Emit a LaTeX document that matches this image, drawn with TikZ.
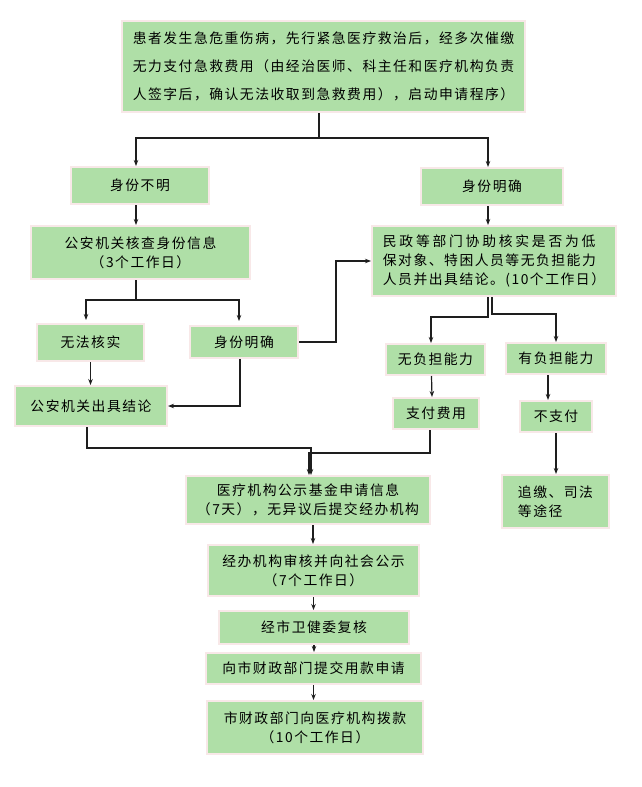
\documentclass[tikz,border=0pt]{standalone}
\usepackage{fontspec}
\newfontfamily\cjk{Noto Sans CJK SC}[LetterSpace=11]
\usetikzlibrary{arrows.meta}
\definecolor{boxgreen}{RGB}{175,223,167}
\definecolor{boxrim}{RGB}{248,232,232}
\definecolor{linec}{RGB}{30,30,30}
\begin{document}
\begin{tikzpicture}[x=1pt,y=-1pt,
  box/.style={draw=boxrim, line width=2pt, fill=boxgreen, inner sep=0pt, align=center,
    font=\cjk\fontsize{13.8}{19}\selectfont},
  line/.style={draw=linec, line width=1.2pt},
  arr/.style={line, -{Stealth[length=6pt,width=4.5pt]}}]
\useasboundingbox[fill=white] (0,0) rectangle (642,787);

\node[box, minimum width=403pt, minimum height=91pt, font=\cjk\fontsize{13.8}{28}\selectfont] (top) at (323.5,66.5)
 {患者发生急危重伤病，先行紧急医疗救治后，经多次催缴\\无力支付急救费用（由经治医师、科主任和医疗机构负责\\人签字后，确认无法收取到急救费用），启动申请程序）};
\node[box, minimum width=138pt, minimum height=37pt] (sbm) at (140,185.5) {身份不明};
\node[box, minimum width=219pt, minimum height=53pt] (gaj) at (140.5,252.5) {公安机关核查身份信息\\（3个工作日）};
\node[box, minimum width=142pt, minimum height=37pt] (sfr) at (492,186.5) {身份明确};
\node[box, minimum width=244pt, minimum height=70pt, align=left] (mz) at (494,261)
 {{\addfontfeature{LetterSpace=20}民政等部门协助核实是否为低}\\保对象、特困人员等无负担能力\\人员并出具结论。(10个工作日）};
\node[box, minimum width=107pt, minimum height=37pt] (wfh) at (90.5,342.5) {无法核实};
\node[box, minimum width=108pt, minimum height=32pt] (sml) at (244,342) {身份明确};
\node[box, minimum width=152pt, minimum height=40pt] (gjc) at (91,406) {公安机关出具结论};
\node[box, minimum width=99pt, minimum height=31pt] (wfd) at (435.5,359.5) {无负担能力};
\node[box, minimum width=100pt, minimum height=31pt] (yfd) at (556,358.5) {有负担能力};
\node[box, minimum width=86pt, minimum height=31pt] (zf) at (436,413.5) {支付费用};
\node[box, minimum width=72pt, minimum height=31pt] (bzf) at (556,416.5) {不支付};
\node[box, minimum width=107pt, minimum height=53pt, align=left] (zj) at (555.5,501.5) {追缴、司法\\等途径};
\node[box, minimum width=244pt, minimum height=48pt] (yl) at (308,500) {医疗机构公示基金申请信息\\（7天），无异议后提交经办机构};
\node[box, minimum width=211pt, minimum height=51pt] (jb) at (313.5,570.5) {经办机构审核并向社会公示\\（7个工作日）};
\node[box, minimum width=190pt, minimum height=33pt] (wjw) at (314,627.5) {经市卫健委复核};
\node[box, minimum width=215pt, minimum height=31pt] (cz) at (313.5,668.5) {向市财政部门提交用款申请};
\node[box, minimum width=216pt, minimum height=53pt] (bk) at (315,727.5) {市财政部门向医疗机构拨款\\（10个工作日）};

% connectors
\draw[line] ([xshift=-4.5pt]top.south) -- ++(0,25) coordinate (j1);
\draw[arr] (j1) -| ([xshift=-4pt]sbm.north);
\draw[arr] (j1) -| ([xshift=-4pt]sfr.north);
\draw[arr] ([xshift=-4pt]sbm.south) -- ([xshift=-4.5pt]gaj.north);
\draw[arr] ([xshift=-4pt]sfr.south) -- ([xshift=-6pt]mz.north);
\draw[line] ([xshift=-4.5pt]gaj.south) -- ++(0,20) coordinate (j2);
\draw[arr, shorten >=3pt] (j2) -| ([xshift=-4.5pt]wfh.north);
\draw[arr, shorten >=4pt] (j2) -| ([xshift=-5pt]sml.north);
\draw[arr] (sml.east) -- ++(37,0) |- (mz.west);
\draw[arr] (wfh.south) -- (wfh.south |- gjc.north);
\draw[arr] ([xshift=-4pt]sml.south) |- (gjc.east);
\draw[arr] ([xshift=-6pt]mz.south) -- ++(0,20) -| ([xshift=-4.5pt]wfd.north);
\draw[arr] ([xshift=-2pt]mz.south) -- ++(0,17) -| (yfd.north);
\draw[arr] ([xshift=-4pt]wfd.south) -- ([xshift=-4pt]zf.north);
\draw[arr] ([xshift=-8pt]yfd.south) -- ([xshift=-8pt]bzf.north);
\draw[arr] (bzf.south) -- (bzf.south |- zj.north);
\draw[arr] ([xshift=-4pt]gjc.south) -- ++(0,21) -| ([xshift=3pt]yl.north);
\draw[arr] ([xshift=-6pt]zf.south) -- ++(0,23) -| ([xshift=1pt]yl.north);
\draw[arr] ([xshift=5pt]yl.south) -- ([xshift=-0.5pt]jb.north);
\draw[arr] (jb.south) -- (jb.south |- wjw.north);
\draw[arr] (wjw.south) -- (wjw.south |- cz.north);
\draw[arr] (cz.south) -- (cz.south |- bk.north);
\end{tikzpicture}
\end{document}
